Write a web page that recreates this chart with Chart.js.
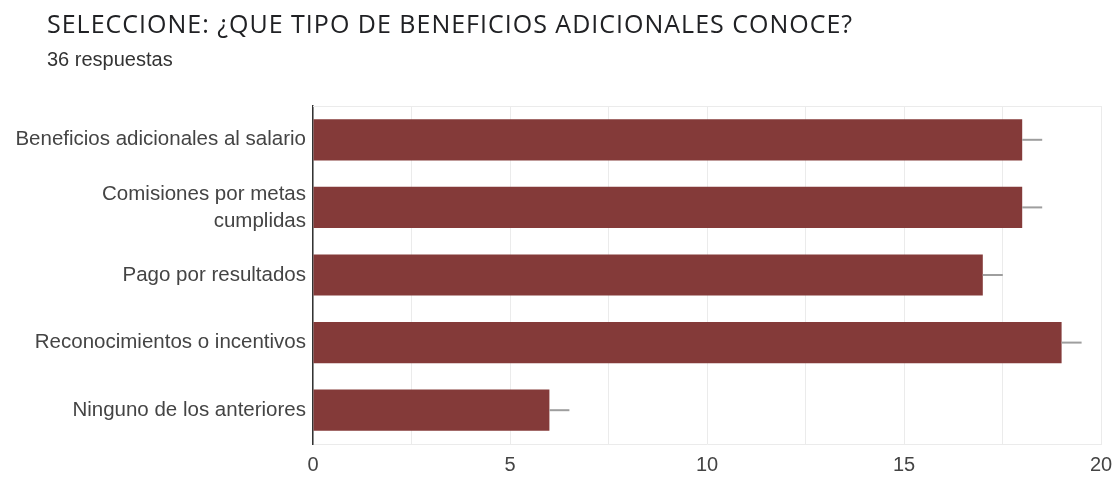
<!DOCTYPE html>
<html lang="es">
<head>
  <meta charset="UTF-8" />
  <title>Beneficios adicionales</title>
  <script src="https://cdn.jsdelivr.net/npm/chart.js"></script>
  <style>
    body { margin: 0; background: #fff; }
    #wrap { position: relative; width: 1116px; height: 477px; }
    #title { position: absolute; left: 47px; top: 6px; font: 25px "Open Sans", sans-serif; letter-spacing: 1px; color: #202124; white-space: nowrap; }
    #sub { position: absolute; left: 47px; top: 48px; font: 20px "Liberation Sans", Arial, sans-serif; color: #333; }
    canvas { position: absolute; left: 0; top: 0; }
  </style>
</head>
<body>
  <div id="wrap">
    <canvas id="chart" width="1116" height="477"></canvas>
    <div id="title">SELECCIONE: ¿QUE TIPO DE BENEFICIOS ADICIONALES CONOCE?</div>
    <div id="sub">36 respuestas</div>
  </div>

  <script>
    const categories = [
      'Beneficios adicionales al salario',
      ['Comisiones por metas', 'cumplidas'],
      'Pago por resultados',
      'Reconocimientos o incentivos',
      'Ninguno de los anteriores'
    ];
    const counts = [18, 18, 17, 19, 6];
    const xLabeled = [0, 5, 10, 15, 20];

    const labelFont = { family: '"Liberation Sans", Arial, sans-serif', size: 20.5, lineHeight: 1.32 };

    // light frame on top of the plot + small grey stubs after each bar
    const extras = {
      id: 'extras',
      beforeDatasetsDraw(chart) {
        const { ctx, chartArea: a } = chart;
        ctx.save();
        ctx.strokeStyle = '#ebebeb';
        ctx.lineWidth = 1;
        ctx.beginPath();
        ctx.moveTo(a.left, a.top + 0.5);
        ctx.lineTo(a.right, a.top + 0.5);
        ctx.stroke();
        ctx.restore();
      },
      afterDatasetsDraw(chart) {
        const ctx = chart.ctx;
        ctx.save();
        ctx.strokeStyle = '#9e9e9e';
        ctx.lineWidth = 2;
        chart.getDatasetMeta(0).data.forEach(bar => {
          ctx.beginPath();
          ctx.moveTo(bar.x, bar.y);
          ctx.lineTo(bar.x + 20, bar.y);
          ctx.stroke();
        });
        ctx.restore();
      }
    };

    new Chart(document.getElementById('chart'), {
      type: 'bar',
      data: {
        labels: categories,
        datasets: [{
          data: counts,
          backgroundColor: '#843a39',
          borderWidth: 0,
          categoryPercentage: 0.61,
          barPercentage: 1
        }]
      },
      options: {
        indexAxis: 'y',
        responsive: false,
        animation: false,
        layout: { padding: { top: 106, right: 15, left: 0, bottom: 0 } },
        plugins: { legend: { display: false }, tooltip: { enabled: false } },
        scales: {
          x: {
            min: 0,
            max: 20,
            afterFit: s => { s.height = 33; s.paddingRight = 0; },
            ticks: {
              stepSize: 2.5,
              padding: 9,
              color: '#444',
              font: { family: labelFont.family, size: 20 },
              callback: v => xLabeled.includes(v) ? v : ''
            },
            grid: { color: '#ebebeb', drawTicks: false },
            border: { color: '#ebebeb' }
          },
          y: {
            afterFit: s => { s.width = 313; },
            ticks: { padding: 7, color: '#444', font: labelFont },
            grid: { display: false, drawTicks: false },
            border: { color: '#333', width: 1.5 }
          }
        }
      },
      plugins: [extras]
    });
  </script>
</body>
</html>
